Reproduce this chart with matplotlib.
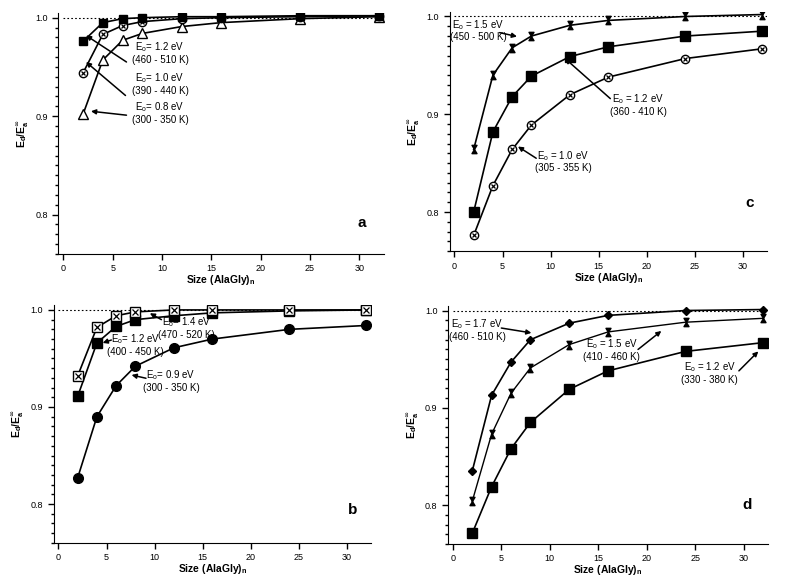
import numpy as np
import matplotlib
matplotlib.use('agg')
import matplotlib.pyplot as plt
from matplotlib.path import Path
from matplotlib.ticker import MultipleLocator

plt.rcParams['font.family'] = ['Liberation Sans', 'DejaVu Sans']

# cluster sizes n of (AlaGly)n
sizes = [2, 4, 6, 8, 12, 16, 24, 32]

# panel a
a_12 = [0.976, 0.995, 0.999, 1.000, 1.001, 1.001, 1.002, 1.002]
a_10 = [0.944, 0.983, 0.992, 0.996, 0.999, 1.000, 1.001, 1.002]
a_08 = [0.902, 0.957, 0.977, 0.984, 0.991, 0.995, 0.999, 1.001]

# panel b
b_14 = [0.932, 0.982, 0.994, 0.998, 1.000, 1.000, 1.000, 1.000]
b_12 = [0.911, 0.966, 0.983, 0.990, 0.994, 0.997, 0.999, 1.000]
b_09 = [0.827, 0.890, 0.922, 0.942, 0.961, 0.970, 0.980, 0.984]

# panel c
c_15 = [0.864, 0.940, 0.968, 0.980, 0.991, 0.996, 1.000, 1.002]
c_12 = [0.800, 0.882, 0.918, 0.939, 0.959, 0.969, 0.980, 0.985]
c_10 = [0.776, 0.827, 0.864, 0.889, 0.920, 0.938, 0.957, 0.967]

# panel d
d_17 = [0.835, 0.913, 0.947, 0.970, 0.987, 0.995, 1.000, 1.001]
d_15 = [0.804, 0.873, 0.915, 0.941, 0.965, 0.978, 0.988, 0.992]
d_12 = [0.771, 0.819, 0.858, 0.885, 0.919, 0.938, 0.958, 0.967]

hourglass = Path([(-0.6, 1), (0.6, 1), (-0.6, -1), (0.6, -1), (-0.6, 1)],
                 [Path.MOVETO, Path.LINETO, Path.LINETO, Path.LINETO, Path.CLOSEPOLY])

fig = plt.figure(figsize=(8, 5.8), dpi=100)
ax_a = fig.add_axes([0.073, 0.562, 0.407, 0.416])
ax_c = fig.add_axes([0.562, 0.567, 0.397, 0.413])
ax_b = fig.add_axes([0.067, 0.064, 0.397, 0.410])
ax_d = fig.add_axes([0.560, 0.062, 0.400, 0.411])

LBL = 7


def setup(ax, letter, lx, ly):
    ax.set_xlim(-0.5, 32.5)
    ax.set_ylim(0.76, 1.005)
    ax.spines['top'].set_visible(False)
    ax.spines['right'].set_visible(False)
    ax.yaxis.set_minor_locator(MultipleLocator(0.01))
    ax.tick_params(axis='both', which='major', labelsize=6.5, length=4, width=1)
    ax.tick_params(axis='y', which='minor', length=2.5, width=1)
    ax.set_xticks([0, 5, 10, 15, 20, 25, 30])
    ax.set_yticks([0.8, 0.9, 1.0])
    ax.set_yticklabels(['0.8', '0.9', '1.0'])
    ax.hlines(1.0, 0, 32.5, color='black', ls=(0, (1.5, 2)), lw=0.8, zorder=1)
    ax.set_xlabel('Size (AlaGly)$_\\mathregular{n}$', fontsize=7.5, fontweight='bold', labelpad=0)
    ax.set_ylabel('E$_\\mathregular{d}$/E$_\\mathregular{a}^{\\infty}$', fontsize=7.5,
                  fontweight='bold', labelpad=4)
    ax.text(lx, ly, letter, fontsize=11, fontweight='bold', ha='center', va='center')


def series(ax, y, marker, filled=True, ms=6, cross=False, lw=1.2):
    ax.plot(sizes, y, color='black', lw=lw, zorder=2)
    ax.plot(sizes, y, ls='none', marker=marker, ms=ms, mec='black', mew=1,
            mfc='black' if filled else 'white', zorder=3)
    if cross:
        ax.plot(sizes, y, ls='none', marker='x', ms=ms * 0.6, mec='black', mew=0.9, zorder=4)


def arrow(ax, x0, y0, x1, y1):
    ax.annotate('', xy=(x1, y1), xytext=(x0, y0),
                arrowprops=dict(arrowstyle='-|>', color='black', lw=1.1,
                                mutation_scale=7, shrinkA=0, shrinkB=0))


def label(ax, text, x, y):
    ax.text(x, y, text, fontsize=LBL, ha='center', va='center', linespacing=1.1)


# panel a
setup(ax_a, 'a', 30.2, 0.792)
series(ax_a, a_08, '^', filled=False, ms=7)
series(ax_a, a_10, 'o', filled=False, ms=6, cross=True)
series(ax_a, a_12, 's', ms=6)
label(ax_a, 'E$_\\mathregular{o}$= 1.2 eV\n(460 - 510 K)', 9.8, 0.9644)
label(ax_a, 'E$_\\mathregular{o}$= 1.0 eV\n(390 - 440 K)', 9.8, 0.933)
label(ax_a, 'E$_\\mathregular{o}$= 0.8 eV\n(300 - 350 K)', 9.8, 0.9038)
arrow(ax_a, 6.4, 0.955, 2.3, 0.982)
arrow(ax_a, 6.3, 0.921, 2.3, 0.955)
arrow(ax_a, 6.4, 0.901, 2.8, 0.905)

# panel b
setup(ax_b, 'b', 30.6, 0.794)
series(ax_b, b_09, 'o', ms=7)
series(ax_b, b_12, 's', ms=6.5)
series(ax_b, b_14, 's', filled=False, ms=6.5, cross=True)
label(ax_b, 'E$_\\mathregular{o}$= 1.4 eV\n(470 - 520 K)', 13.3, 0.9815)
label(ax_b, 'E$_\\mathregular{o}$= 1.2 eV\n(400 - 450 K)', 8.0, 0.9645)
label(ax_b, 'E$_\\mathregular{o}$= 0.9 eV\n(300 - 350 K)', 11.7, 0.927)
arrow(ax_b, 10.7, 0.990, 9.5, 0.9966)
arrow(ax_b, 5.5, 0.969, 4.6, 0.966)
arrow(ax_b, 9.1, 0.9296, 7.6, 0.933)

# panel c
setup(ax_c, 'c', 30.7, 0.809)
series(ax_c, c_10, 'o', filled=False, ms=6, cross=True)
series(ax_c, c_12, 's', ms=7)
series(ax_c, c_15, hourglass, ms=6)
label(ax_c, 'E$_\\mathregular{o}$ = 1.5 eV\n(450 - 500 K)', 2.5, 0.986)
label(ax_c, 'E$_\\mathregular{o}$ = 1.2 eV\n(360 - 410 K)', 19.1, 0.910)
label(ax_c, 'E$_\\mathregular{o}$ = 1.0 eV\n(305 - 355 K)', 11.3, 0.852)
arrow(ax_c, 4.7, 0.9835, 6.5, 0.9795)
arrow(ax_c, 16.2, 0.916, 11.5, 0.957)
arrow(ax_c, 8.5, 0.855, 6.6, 0.867)

# panel d
setup(ax_d, 'd', 30.3, 0.800)
series(ax_d, d_12, 's', ms=7)
series(ax_d, d_15, hourglass, ms=6, lw=1.0)
series(ax_d, d_17, 'D', ms=4.5)
label(ax_d, 'E$_\\mathregular{o}$ = 1.7 eV\n(460 - 510 K)', 2.5, 0.9805)
label(ax_d, 'E$_\\mathregular{o}$ = 1.5 eV\n(410 - 460 K)', 16.4, 0.960)
label(ax_d, 'E$_\\mathregular{o}$ = 1.2 eV\n(330 - 380 K)', 26.5, 0.936)
arrow(ax_d, 5.0, 0.982, 8.1, 0.977)
arrow(ax_d, 19.1, 0.960, 21.5, 0.979)
arrow(ax_d, 29.5, 0.938, 31.5, 0.958)

fig.savefig('out.png', dpi=100)
